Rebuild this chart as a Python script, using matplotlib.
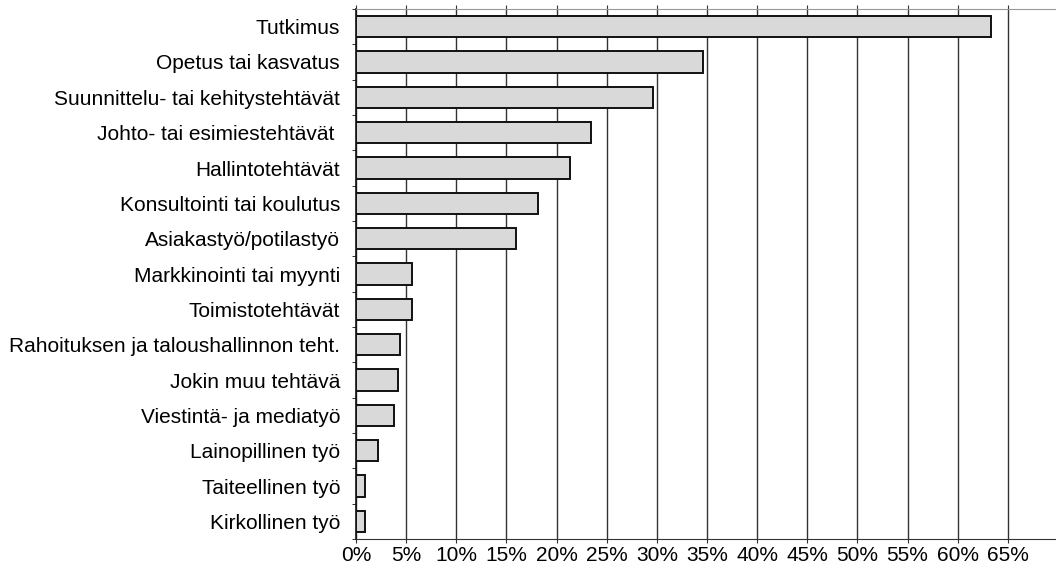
import matplotlib.pyplot as plt
import numpy as np

plt.rcParams['font.family'] = ['Liberation Sans', 'DejaVu Sans']

tehtavat = [
    'Tutkimus',
    'Opetus tai kasvatus',
    'Suunnittelu- tai kehitystehtävät',
    'Johto- tai esimiestehtävät ',
    'Hallintotehtävät',
    'Konsultointi tai koulutus',
    'Asiakastyö/potilastyö',
    'Markkinointi tai myynti',
    'Toimistotehtävät',
    'Rahoituksen ja taloushallinnon teht.',
    'Jokin muu tehtävä',
    'Viestintä- ja mediatyö',
    'Lainopillinen työ',
    'Taiteellinen työ',
    'Kirkollinen työ',
]
osuudet = [63.3, 34.6, 29.6, 23.4, 21.3, 18.1, 16.0, 5.6, 5.6, 4.4, 4.2, 3.8, 2.2, 0.9, 0.9]
x_ticks = list(range(0, 70, 5))
x_labels = [f'{t}%' for t in x_ticks]

fig = plt.figure(figsize=(10.56, 5.72), dpi=100)
ax = fig.add_axes([356 / 1056, 1 - 539 / 572, 1 - 356 / 1056, 530 / 572])

y = np.arange(len(tehtavat))
ax.barh(y, osuudet, height=0.6, color='#d9d9d9', edgecolor='#111111', linewidth=1.4, zorder=3)

ax.set_xlim(0, 69.8)
ax.set_ylim(len(tehtavat) - 0.5, -0.5)

ax.set_xticks(x_ticks)
ax.set_xticklabels(x_labels, fontsize=15)
ax.xaxis.grid(True, color='#333333', linewidth=1.0, zorder=0)
ax.tick_params(axis='x', which='major', direction='out', length=3, color='#333333',
               top=True, bottom=True, labeltop=False, pad=2)

ax.set_yticks(y)
ax.set_yticklabels(tehtavat, fontsize=15)
ax.set_yticks(np.arange(-0.5, len(tehtavat), 1.0), minor=True)
ax.tick_params(axis='y', which='major', length=0, pad=11.5)
ax.tick_params(axis='y', which='minor', length=3, direction='out', color='#111111')

ax.spines['right'].set_visible(False)
ax.spines['top'].set_color('#999999')
ax.spines['bottom'].set_color('#333333')
ax.spines['left'].set_color('#111111')
ax.spines['left'].set_linewidth(1.2)

fig.savefig('out.png', dpi=100)
